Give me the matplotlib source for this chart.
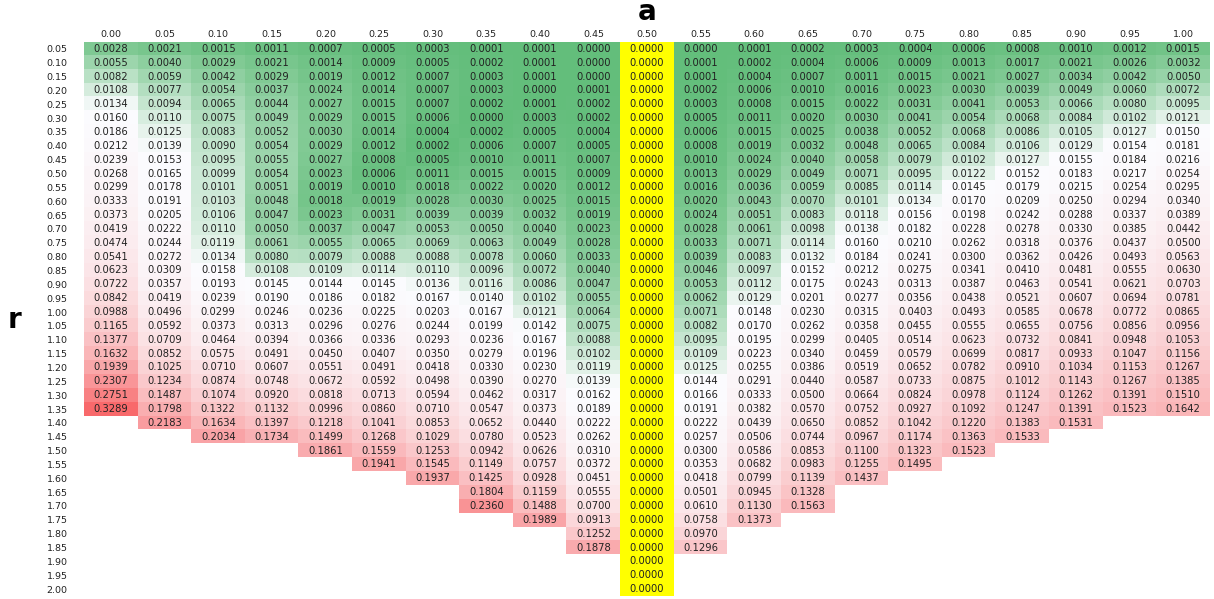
import numpy as np
import matplotlib.pyplot as plt
from matplotlib.colors import LinearSegmentedColormap, TwoSlopeNorm

# column headers (a) and row headers (r)
a_labels = ["0.00", "0.05", "0.10", "0.15", "0.20", "0.25", "0.30", "0.35", "0.40", "0.45", "0.50",
            "0.55", "0.60", "0.65", "0.70", "0.75", "0.80", "0.85", "0.90", "0.95", "1.00"]
r_labels = ["0.05", "0.10", "0.15", "0.20", "0.25", "0.30", "0.35", "0.40", "0.45", "0.50",
            "0.55", "0.60", "0.65", "0.70", "0.75", "0.80", "0.85", "0.90", "0.95", "1.00",
            "1.05", "1.10", "1.15", "1.20", "1.25", "1.30", "1.35", "1.40", "1.45", "1.50",
            "1.55", "1.60", "1.65", "1.70", "1.75", "1.80", "1.85", "1.90", "1.95", "2.00"]
highlight_a = "0.50"

# one list per column, starting at r = 0.05
a000 = [0.0028, 0.0055, 0.0082, 0.0108, 0.0134, 0.0160, 0.0186, 0.0212, 0.0239, 0.0268, 0.0299, 0.0333,
        0.0373, 0.0419, 0.0474, 0.0541, 0.0623, 0.0722, 0.0842, 0.0988, 0.1165, 0.1377, 0.1632, 0.1939,
        0.2307, 0.2751, 0.3289]
a005 = [0.0021, 0.0040, 0.0059, 0.0077, 0.0094, 0.0110, 0.0125, 0.0139, 0.0153, 0.0165, 0.0178, 0.0191,
        0.0205, 0.0222, 0.0244, 0.0272, 0.0309, 0.0357, 0.0419, 0.0496, 0.0592, 0.0709, 0.0852, 0.1025,
        0.1234, 0.1487, 0.1798, 0.2183]
a010 = [0.0015, 0.0029, 0.0042, 0.0054, 0.0065, 0.0075, 0.0083, 0.0090, 0.0095, 0.0099, 0.0101, 0.0103,
        0.0106, 0.0110, 0.0119, 0.0134, 0.0158, 0.0193, 0.0239, 0.0299, 0.0373, 0.0464, 0.0575, 0.0710,
        0.0874, 0.1074, 0.1322, 0.1634, 0.2034]
a015 = [0.0011, 0.0021, 0.0029, 0.0037, 0.0044, 0.0049, 0.0052, 0.0054, 0.0055, 0.0054, 0.0051, 0.0048,
        0.0047, 0.0050, 0.0061, 0.0080, 0.0108, 0.0145, 0.0190, 0.0246, 0.0313, 0.0394, 0.0491, 0.0607,
        0.0748, 0.0920, 0.1132, 0.1397, 0.1734]
a020 = [0.0007, 0.0014, 0.0019, 0.0024, 0.0027, 0.0029, 0.0030, 0.0029, 0.0027, 0.0023, 0.0019, 0.0018,
        0.0023, 0.0037, 0.0055, 0.0079, 0.0109, 0.0144, 0.0186, 0.0236, 0.0296, 0.0366, 0.0450, 0.0551,
        0.0672, 0.0818, 0.0996, 0.1218, 0.1499, 0.1861]
a025 = [0.0005, 0.0009, 0.0012, 0.0014, 0.0015, 0.0015, 0.0014, 0.0012, 0.0008, 0.0006, 0.0010, 0.0019,
        0.0031, 0.0047, 0.0065, 0.0088, 0.0114, 0.0145, 0.0182, 0.0225, 0.0276, 0.0336, 0.0407, 0.0491,
        0.0592, 0.0713, 0.0860, 0.1041, 0.1268, 0.1559, 0.1941]
a030 = [0.0003, 0.0005, 0.0007, 0.0007, 0.0007, 0.0006, 0.0004, 0.0002, 0.0005, 0.0011, 0.0018, 0.0028,
        0.0039, 0.0053, 0.0069, 0.0088, 0.0110, 0.0136, 0.0167, 0.0203, 0.0244, 0.0293, 0.0350, 0.0418,
        0.0498, 0.0594, 0.0710, 0.0853, 0.1029, 0.1253, 0.1545, 0.1937]
a035 = [0.0001, 0.0002, 0.0003, 0.0003, 0.0002, 0.0000, 0.0002, 0.0006, 0.0010, 0.0015, 0.0022, 0.0030,
        0.0039, 0.0050, 0.0063, 0.0078, 0.0096, 0.0116, 0.0140, 0.0167, 0.0199, 0.0236, 0.0279, 0.0330,
        0.0390, 0.0462, 0.0547, 0.0652, 0.0780, 0.0942, 0.1149, 0.1425, 0.1804, 0.2360]
a040 = [0.0001, 0.0001, 0.0001, 0.0000, 0.0001, 0.0003, 0.0005, 0.0007, 0.0011, 0.0015, 0.0020, 0.0025,
        0.0032, 0.0040, 0.0049, 0.0060, 0.0072, 0.0086, 0.0102, 0.0121, 0.0142, 0.0167, 0.0196, 0.0230,
        0.0270, 0.0317, 0.0373, 0.0440, 0.0523, 0.0626, 0.0757, 0.0928, 0.1159, 0.1488, 0.1989]
a045 = [0.0000, 0.0000, 0.0000, 0.0001, 0.0002, 0.0002, 0.0004, 0.0005, 0.0007, 0.0009, 0.0012, 0.0015,
        0.0019, 0.0023, 0.0028, 0.0033, 0.0040, 0.0047, 0.0055, 0.0064, 0.0075, 0.0088, 0.0102, 0.0119,
        0.0139, 0.0162, 0.0189, 0.0222, 0.0262, 0.0310, 0.0372, 0.0451, 0.0555, 0.0700, 0.0913, 0.1252,
        0.1878]
a050 = [0.0000] * 40
a055 = [0.0000, 0.0001, 0.0001, 0.0002, 0.0003, 0.0005, 0.0006, 0.0008, 0.0010, 0.0013, 0.0016, 0.0020,
        0.0024, 0.0028, 0.0033, 0.0039, 0.0046, 0.0053, 0.0062, 0.0071, 0.0082, 0.0095, 0.0109, 0.0125,
        0.0144, 0.0166, 0.0191, 0.0222, 0.0257, 0.0300, 0.0353, 0.0418, 0.0501, 0.0610, 0.0758, 0.0970,
        0.1296]
a060 = [0.0001, 0.0002, 0.0004, 0.0006, 0.0008, 0.0011, 0.0015, 0.0019, 0.0024, 0.0029, 0.0036, 0.0043,
        0.0051, 0.0061, 0.0071, 0.0083, 0.0097, 0.0112, 0.0129, 0.0148, 0.0170, 0.0195, 0.0223, 0.0255,
        0.0291, 0.0333, 0.0382, 0.0439, 0.0506, 0.0586, 0.0682, 0.0799, 0.0945, 0.1130, 0.1373]
a065 = [0.0002, 0.0004, 0.0007, 0.0010, 0.0015, 0.0020, 0.0025, 0.0032, 0.0040, 0.0049, 0.0059, 0.0070,
        0.0083, 0.0098, 0.0114, 0.0132, 0.0152, 0.0175, 0.0201, 0.0230, 0.0262, 0.0299, 0.0340, 0.0386,
        0.0440, 0.0500, 0.0570, 0.0650, 0.0744, 0.0853, 0.0983, 0.1139, 0.1328, 0.1563]
a070 = [0.0003, 0.0006, 0.0011, 0.0016, 0.0022, 0.0030, 0.0038, 0.0048, 0.0058, 0.0071, 0.0085, 0.0101,
        0.0118, 0.0138, 0.0160, 0.0184, 0.0212, 0.0243, 0.0277, 0.0315, 0.0358, 0.0405, 0.0459, 0.0519,
        0.0587, 0.0664, 0.0752, 0.0852, 0.0967, 0.1100, 0.1255, 0.1437]
a075 = [0.0004, 0.0009, 0.0015, 0.0023, 0.0031, 0.0041, 0.0052, 0.0065, 0.0079, 0.0095, 0.0114, 0.0134,
        0.0156, 0.0182, 0.0210, 0.0241, 0.0275, 0.0313, 0.0356, 0.0403, 0.0455, 0.0514, 0.0579, 0.0652,
        0.0733, 0.0824, 0.0927, 0.1042, 0.1174, 0.1323, 0.1495]
a080 = [0.0006, 0.0013, 0.0021, 0.0030, 0.0041, 0.0054, 0.0068, 0.0084, 0.0102, 0.0122, 0.0145, 0.0170,
        0.0198, 0.0228, 0.0262, 0.0300, 0.0341, 0.0387, 0.0438, 0.0493, 0.0555, 0.0623, 0.0699, 0.0782,
        0.0875, 0.0978, 0.1092, 0.1220, 0.1363, 0.1523]
a085 = [0.0008, 0.0017, 0.0027, 0.0039, 0.0053, 0.0068, 0.0086, 0.0106, 0.0127, 0.0152, 0.0179, 0.0209,
        0.0242, 0.0278, 0.0318, 0.0362, 0.0410, 0.0463, 0.0521, 0.0585, 0.0655, 0.0732, 0.0817, 0.0910,
        0.1012, 0.1124, 0.1247, 0.1383, 0.1533]
a090 = [0.0010, 0.0021, 0.0034, 0.0049, 0.0066, 0.0084, 0.0105, 0.0129, 0.0155, 0.0183, 0.0215, 0.0250,
        0.0288, 0.0330, 0.0376, 0.0426, 0.0481, 0.0541, 0.0607, 0.0678, 0.0756, 0.0841, 0.0933, 0.1034,
        0.1143, 0.1262, 0.1391, 0.1531]
a095 = [0.0012, 0.0026, 0.0042, 0.0060, 0.0080, 0.0102, 0.0127, 0.0154, 0.0184, 0.0217, 0.0254, 0.0294,
        0.0337, 0.0385, 0.0437, 0.0493, 0.0555, 0.0621, 0.0694, 0.0772, 0.0856, 0.0948, 0.1047, 0.1153,
        0.1267, 0.1391, 0.1523]
a100 = [0.0015, 0.0032, 0.0050, 0.0072, 0.0095, 0.0121, 0.0150, 0.0181, 0.0216, 0.0254, 0.0295, 0.0340,
        0.0389, 0.0442, 0.0500, 0.0563, 0.0630, 0.0703, 0.0781, 0.0865, 0.0956, 0.1053, 0.1156, 0.1267,
        0.1385, 0.1510, 0.1642]

columns = [a000, a005, a010, a015, a020, a025, a030, a035, a040, a045, a050,
           a055, a060, a065, a070, a075, a080, a085, a090, a095, a100]

grid = np.full((len(r_labels), len(a_labels)), np.nan)
for j, col in enumerate(columns):
    grid[:len(col), j] = col

# Excel-style green / white / red colour scale
cmap = LinearSegmentedColormap.from_list("gwr", ["#63BE7B", "#FCFCFF", "#F8696B"])
norm = TwoSlopeNorm(vmin=np.nanmin(grid), vcenter=np.nanmedian(grid), vmax=np.nanmax(grid))
rgba = cmap(norm(np.nan_to_num(grid)))
rgba[np.isnan(grid)] = (1, 1, 1, 1)
hl = a_labels.index(highlight_a)
rgba[:, hl] = (1, 1, 0, 1)

fig = plt.figure(figsize=(12.14, 5.99), dpi=100)
ax = fig.add_axes([0.0694, 0.005, 0.9273, 0.925])
ax.imshow(rgba, aspect="auto", interpolation="nearest")

for i in range(grid.shape[0]):
    for j in range(grid.shape[1]):
        v = grid[i, j]
        if not np.isnan(v):
            ax.text(j, i, f"{v:.4f}", ha="center", va="center", fontsize=7.2, color="#222222")

ax.xaxis.tick_top()
ax.set_xticks(range(len(a_labels)), a_labels, fontsize=6.8, color="#222222")
ax.set_yticks(range(len(r_labels)), r_labels, fontsize=6.8, color="#222222")
ax.tick_params(length=0, pad=2)
ax.tick_params(axis="y", pad=12)
for s in ax.spines.values():
    s.set_visible(False)

fig.text(647 / 1214, 1 - 12 / 599, "a", ha="center", va="center", fontsize=20, fontweight="bold")
fig.text(14 / 1214, 1 - 320 / 599, "r", ha="center", va="center", fontsize=20, fontweight="bold")

fig.savefig("out.png", dpi=100)
